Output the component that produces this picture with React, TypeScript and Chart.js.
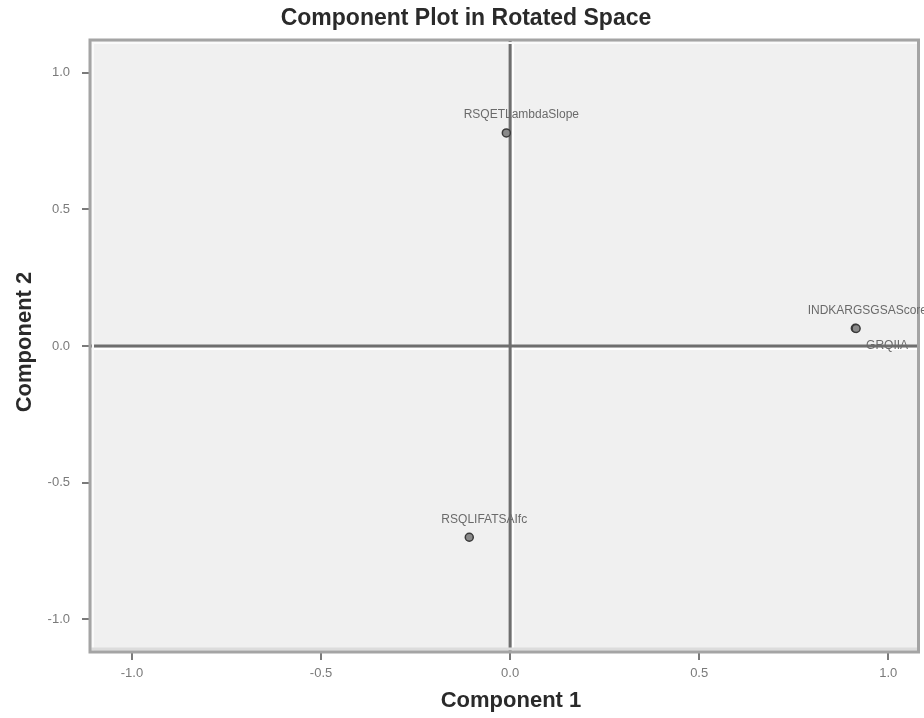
import React, { useEffect, useRef } from "react";
import { Chart, registerables } from "chart.js";

Chart.register(...registerables);

const chartTitle = "Component Plot in Rotated Space";
const xAxisTitle = "Component 1";
const yAxisTitle = "Component 2";
const variableNames = ["RSQETLambdaSlope", "INDKARGSGSAScores", "GRQIIA", "RSQLIFATSAIfc"];
const component1 = [-0.01, 0.913, 0.915, -0.108];
const component2 = [0.78, 0.065, 0.064, -0.70];
const labelSide = ["above", "above", "below", "above"];
const tickValues = [-1.0, -0.5, 0.0, 0.5, 1.0];
const axisMin = -1.111;
const axisMax = 1.08;
const yAxisMin = -1.12;
const yAxisMax = 1.12;

const decorPlugin = {
  id: "decor",
  beforeDatasetsDraw(chart: any) {
    const { ctx, chartArea, scales } = chart;
    const { left, right, top, bottom } = chartArea;
    ctx.save();
    const x0 = scales.x.getPixelForValue(0);
    const y0 = scales.y.getPixelForValue(0);
    ctx.strokeStyle = "#ffffff";
    ctx.lineWidth = 2;
    ctx.beginPath();
    ctx.moveTo(x0 + 3, top);
    ctx.lineTo(x0 + 3, bottom);
    ctx.moveTo(left, y0 + 3);
    ctx.lineTo(right, y0 + 3);
    ctx.stroke();
    ctx.strokeStyle = "#6e6e6e";
    ctx.lineWidth = 3;
    ctx.beginPath();
    ctx.moveTo(x0, top);
    ctx.lineTo(x0, bottom);
    ctx.moveTo(left, y0);
    ctx.lineTo(right, y0);
    ctx.stroke();
    ctx.strokeStyle = "#fafafa";
    ctx.lineWidth = 2;
    ctx.beginPath();
    ctx.moveTo(left + 3, bottom);
    ctx.lineTo(left + 3, top + 3);
    ctx.lineTo(right, top + 3);
    ctx.stroke();
    ctx.strokeStyle = "#dcdcdc";
    ctx.lineWidth = 3;
    ctx.beginPath();
    ctx.moveTo(left, bottom - 3);
    ctx.lineTo(right, bottom - 3);
    ctx.stroke();
    ctx.strokeStyle = "#a4a4a4";
    ctx.lineWidth = 3;
    ctx.strokeRect(left, top, right - left, bottom - top);
    ctx.restore();
  },
  afterDatasetsDraw(chart: any) {
    const { ctx } = chart;
    const meta = chart.getDatasetMeta(0);
    ctx.save();
    ctx.font = "12px 'Liberation Sans', Arial, sans-serif";
    ctx.fillStyle = "#6a6a6a";
    meta.data.forEach((el: any, i: number) => {
      const name = variableNames[i];
      if (labelSide[i] === "below") {
        ctx.textAlign = "left";
        ctx.textBaseline = "middle";
        ctx.fillText(name, el.x + 10, el.y + 17);
      } else {
        ctx.textAlign = "center";
        ctx.textBaseline = "middle";
        ctx.fillText(name, el.x + 15, el.y - 18);
      }
    });
    ctx.restore();
  },
  afterDraw(chart: any) {
    const { ctx } = chart;
    ctx.save();
    ctx.fillStyle = "#2a2a2a";
    ctx.textAlign = "center";
    ctx.textBaseline = "middle";
    ctx.font = "bold 23px 'Liberation Sans', Arial, sans-serif";
    ctx.fillText(chartTitle, 466, 19);
    ctx.font = "bold 22px 'Liberation Sans', Arial, sans-serif";
    ctx.fillText(xAxisTitle, 511, 701);
    ctx.translate(25, 342);
    ctx.rotate(-Math.PI / 2);
    ctx.fillText(yAxisTitle, 0, 0);
    ctx.restore();
  },
};

export default function App() {
  const canvasRef = useRef<HTMLCanvasElement | null>(null);

  useEffect(() => {
    document.body.style.margin = "0";
    const canvas = canvasRef.current;
    if (!canvas) return;
    const points = component1.map((x, i) => ({ x, y: component2[i] }));
    const fmt = (v: any) => Number(v).toFixed(1);
    const chart = new Chart(canvas, {
      type: "scatter",
      data: {
        datasets: [
          {
            data: points,
            pointStyle: "circle",
            pointRadius: 4,
            pointBackgroundColor: "#8a8a8a",
            pointBorderColor: "#3a3a3a",
            pointBorderWidth: 1.5,
          },
        ],
      },
      options: {
        animation: false,
        responsive: false,
        maintainAspectRatio: false,
        layout: { padding: { top: 40, right: 0, bottom: 0, left: 0 } },
        plugins: {
          legend: { display: false },
          title: { display: false },
          tooltip: { enabled: false },
        },
        scales: {
          x: {
            type: "linear",
            min: axisMin,
            max: axisMax,
            afterBuildTicks: (scale: any) => {
              scale.ticks = tickValues.map((v) => ({ value: v }));
            },
            afterFit: (scale: any) => {
              scale.height = 66;
            },
            border: { display: false },
            grid: {
              drawOnChartArea: false,
              drawTicks: true,
              tickLength: 8,
              color: "#7a7a7a",
              lineWidth: 2,
            },
            ticks: {
              callback: fmt,
              padding: 6,
              color: "#7a7a7a",
              font: { size: 13, family: "'Liberation Sans', Arial, sans-serif" },
              maxRotation: 0,
            },
          },
          y: {
            type: "linear",
            min: yAxisMin,
            max: yAxisMax,
            afterBuildTicks: (scale: any) => {
              scale.ticks = tickValues.map((v) => ({ value: v }));
            },
            afterFit: (scale: any) => {
              scale.width = 90;
            },
            border: { display: false },
            grid: {
              drawOnChartArea: false,
              drawTicks: true,
              tickLength: 8,
              color: "#7a7a7a",
              lineWidth: 2,
            },
            ticks: {
              callback: fmt,
              padding: 12,
              color: "#7a7a7a",
              font: { size: 13, family: "'Liberation Sans', Arial, sans-serif" },
            },
          },
        },
      },
      plugins: [
        {
          id: "bg",
          beforeDraw(c: any) {
            const { ctx, chartArea } = c;
            ctx.save();
            ctx.fillStyle = "#ffffff";
            ctx.fillRect(0, 0, c.width, c.height);
            ctx.fillStyle = "#f0f0f0";
            ctx.fillRect(chartArea.left, chartArea.top, chartArea.right - chartArea.left, chartArea.bottom - chartArea.top);
            ctx.restore();
          },
        },
        decorPlugin,
      ],
    } as any);
    return () => chart.destroy();
  }, []);

  return (
    <div style={{ width: 924, height: 718 }}>
      <canvas ref={canvasRef} width={924} height={718} style={{ display: "block", width: 924, height: 718 }} />
    </div>
  );
}
